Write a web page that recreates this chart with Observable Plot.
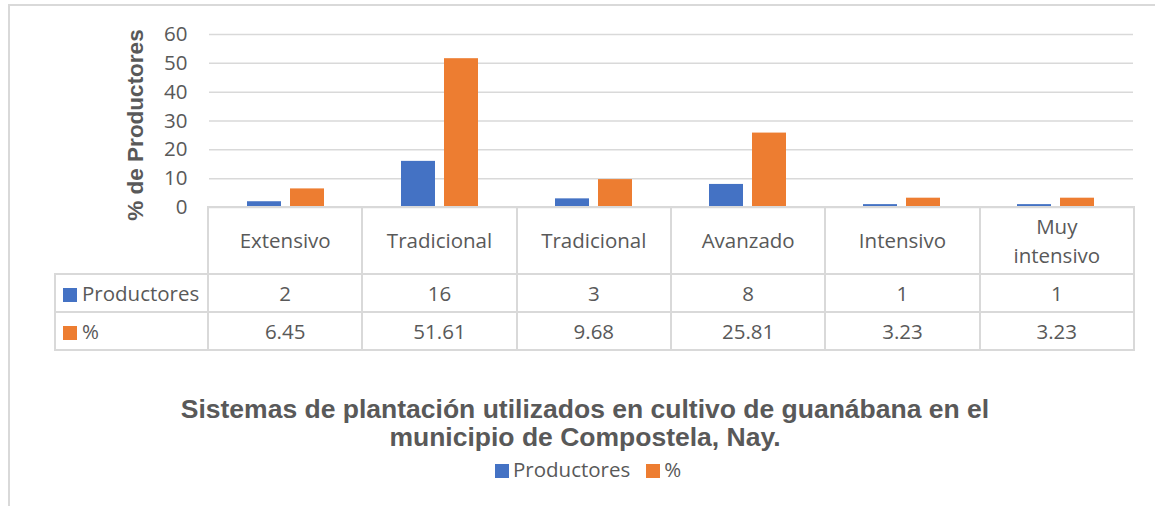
<!DOCTYPE html>
<html>
<head>
<meta charset="utf-8">
<script src="https://cdn.jsdelivr.net/npm/d3@7"></script>
<script src="https://cdn.jsdelivr.net/npm/@observablehq/plot@0.6"></script>
<style>
html, body { margin: 0; padding: 0; background: #fff; }
#wrap { position: relative; width: 1155px; height: 506px; overflow: hidden; background: #fff; font-family: "Open Sans", sans-serif; color: #595959; }
#frame { position: absolute; left: 8px; top: 4px; width: 1300px; height: 700px; border: 2px solid #D9D9D9; box-sizing: border-box; }
#chart { position: absolute; left: 0; top: 0; }
#ylabel { position: absolute; left: 136px; top: 125px; transform: translate(-50%, -50%) rotate(-90deg); font: bold 22.5px "Liberation Sans", Arial, sans-serif; white-space: nowrap; line-height: 1; color: #595959; }
#table { position: absolute; left: 54px; top: 206px; border-collapse: collapse; table-layout: fixed; }
#table td { border: 2px solid #D9D9D9; padding: 0 14px; text-align: center; font-size: 20.5px; line-height: 29px; color: #595959; box-sizing: border-box; white-space: normal; }
#table td.lab { text-align: left; padding: 0 0 0 7px; white-space: nowrap; }
#table td.blank { border-top: none; border-left: none; }
.sw { display: inline-block; width: 14px; height: 14px; margin-right: 5px; vertical-align: -1px; }
#title { position: absolute; left: 0; width: 1170px; top: 395px; text-align: center; font: bold 26.5px "Liberation Sans", Arial, sans-serif; line-height: 28px; color: #595959; }
#legend { position: absolute; left: 495px; top: 459px; font-size: 20.5px; line-height: 20px; white-space: nowrap; color: #595959; }
#legend .item { display: inline-block; margin-right: 16px; }
#legend .sw { margin-right: 4px; vertical-align: -1px; }
</style>
</head>
<body>
<div id="wrap">
  <div id="frame"></div>
  <div id="chart"></div>
  <div id="ylabel"></div>
  <table id="table"></table>
  <div id="title"></div>
  <div id="legend"></div>
</div>
<script>
// ---- data ----
const categories = ["Extensivo", "Tradicional", "Tradicional", "Avanzado", "Intensivo", "Muy intensivo"];
const productores = [2, 16, 3, 8, 1, 1];
const porcentaje = [6.45, 51.61, 9.68, 25.81, 3.23, 3.23];
const porcentajeLabels = ["6.45", "51.61", "9.68", "25.81", "3.23", "3.23"];
const series = ["Productores", "%"];
const colors = ["#4472C4", "#ED7D31"];
const yTicks = [0, 10, 20, 30, 40, 50, 60];
const yTitle = "% de Productores";
const titleLines = ["Sistemas de plantación utilizados en cultivo de guanábana en el", "municipio de Compostela, Nay."];

// ---- long table for Plot ----
const keys = categories.map((c, i) => String(i));
const rows = [];
categories.forEach((c, i) => {
  rows.push({key: keys[i], cat: c, series: series[0], value: productores[i]});
  rows.push({key: keys[i], cat: c, series: series[1], value: porcentaje[i]});
});

const W = 1155, plotLeft = 208, plotRight = 1134;
const chart = Plot.plot({
  width: W,
  height: 209,
  marginLeft: plotLeft,
  marginRight: W - plotRight,
  marginTop: 34,
  marginBottom: 2,
  style: {fontFamily: '"Open Sans", sans-serif', fontSize: "20.5px", color: "#595959", background: "transparent", overflow: "visible"},
  facet: {data: rows, x: "key"},
  fx: {domain: keys, padding: 0, axis: null},
  x: {domain: series, paddingInner: 0.2045, paddingOuter: 0.8557, axis: null},
  y: {domain: [0, 60], ticks: yTicks, tickSize: 0, tickPadding: 22, label: null},
  color: {domain: series, range: colors},
  marks: [
    Plot.ruleY(yTicks, {stroke: "#D9D9D9", strokeWidth: 1.5}),
    Plot.barY(rows, {x: "series", y: "value", fill: "series"})
  ]
});
document.getElementById("chart").appendChild(chart);

document.getElementById("ylabel").textContent = yTitle;

// ---- data table ----
const colW = (plotRight - plotLeft) / categories.length;
const table = document.getElementById("table");
const cg = document.createElement("colgroup");
const c0 = document.createElement("col"); c0.style.width = (plotLeft - 55) + "px"; cg.appendChild(c0);
categories.forEach(() => { const c = document.createElement("col"); c.style.width = colW + "px"; cg.appendChild(c); });
table.appendChild(cg);
table.style.width = (plotRight - 55) + "px";

const hdr = document.createElement("tr"); hdr.style.height = "67px";
const blank = document.createElement("td"); blank.className = "blank"; hdr.appendChild(blank);
categories.forEach(c => { const td = document.createElement("td"); td.textContent = c; hdr.appendChild(td); });
table.appendChild(hdr);

const valueRows = [productores.map(String), porcentajeLabels];
series.forEach((s, si) => {
  const tr = document.createElement("tr"); tr.style.height = "38px";
  const lab = document.createElement("td"); lab.className = "lab";
  const sw = document.createElement("span"); sw.className = "sw"; sw.style.background = colors[si];
  lab.appendChild(sw); lab.appendChild(document.createTextNode(s));
  tr.appendChild(lab);
  valueRows[si].forEach(v => { const td = document.createElement("td"); td.textContent = v; tr.appendChild(td); });
  table.appendChild(tr);
});

// ---- title ----
document.getElementById("title").innerHTML = titleLines.map(l => `<div>${l}</div>`).join("");

// ---- legend ----
const legend = document.getElementById("legend");
series.forEach((s, i) => {
  const it = document.createElement("span"); it.className = "item";
  const sw = document.createElement("span"); sw.className = "sw"; sw.style.background = colors[i];
  it.appendChild(sw); it.appendChild(document.createTextNode(s));
  legend.appendChild(it);
});
</script>
</body>
</html>
